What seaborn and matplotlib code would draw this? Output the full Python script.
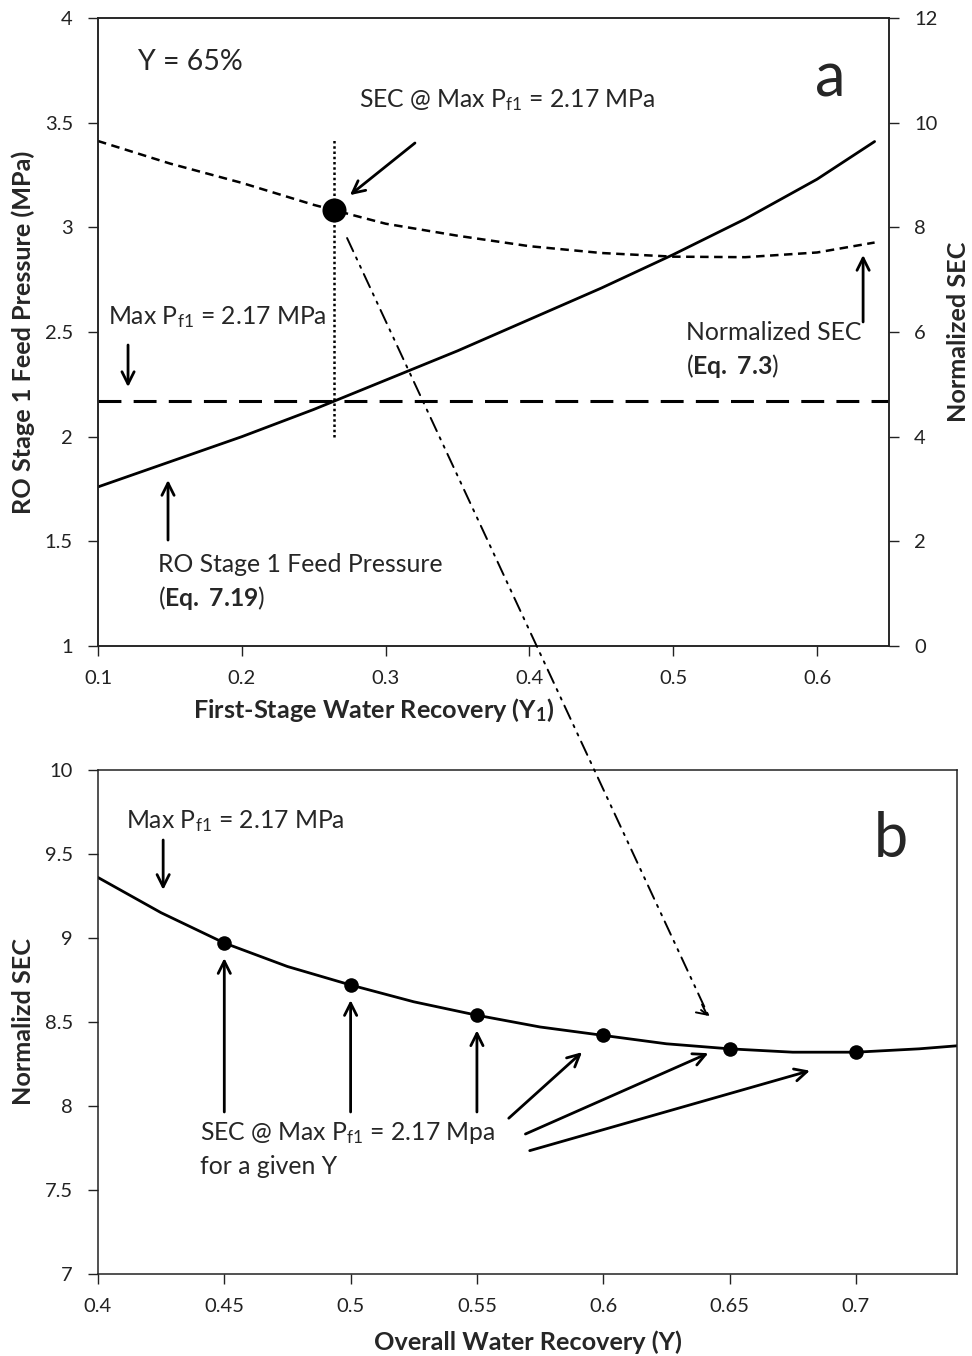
import numpy as np
import pandas as pd
import matplotlib
matplotlib.use("Agg")
import matplotlib.pyplot as plt
import seaborn as sns
from matplotlib.patches import ConnectionPatch
from matplotlib.ticker import FuncFormatter, MultipleLocator

# ---- Panel a: first-stage recovery sweep at overall recovery Y = 65% ----
y1_recovery = [0.10, 0.15, 0.20, 0.25, 0.30, 0.35, 0.40, 0.45, 0.50, 0.55, 0.60, 0.64]
feed_pressure = [1.76, 1.88, 2.00, 2.13, 2.27, 2.41, 2.56, 2.71, 2.87, 3.04, 3.23, 3.41]
sec_first_stage = [9.65, 9.22, 8.85, 8.43, 8.07, 7.84, 7.64, 7.51, 7.44, 7.43, 7.52, 7.71]
max_pf1 = 2.17

# ---- Panel b: SEC at the pressure limit versus overall recovery ----
overall_recovery = [0.400, 0.425, 0.450, 0.475, 0.500, 0.525, 0.550, 0.575,
                    0.600, 0.625, 0.650, 0.675, 0.700, 0.725, 0.750]
sec_overall = [9.36, 9.15, 8.97, 8.83, 8.72, 8.62, 8.54, 8.47,
               8.42, 8.37, 8.34, 8.32, 8.32, 8.34, 8.37]
marked_recovery = [0.45, 0.50, 0.55, 0.60, 0.65, 0.70]

sns.set_theme(style="ticks")
plt.rcParams["font.family"] = ["Lato", "DejaVu Sans"]
plt.rcParams["mathtext.fontset"] = "custom"
plt.rcParams["mathtext.rm"] = "Lato"
plt.rcParams["mathtext.it"] = "Lato:italic"
plt.rcParams["mathtext.bf"] = "Lato:bold"
plt.rcParams["mathtext.default"] = "regular"
plt.rcParams["axes.edgecolor"] = "#222222"
plt.rcParams["xtick.color"] = "#222222"
plt.rcParams["ytick.color"] = "#222222"

TICK_FS = 14.5
TEXT_FS = 17.8
LABEL_FS = 18.2

fig = plt.figure(figsize=(9.72, 13.56), dpi=100)
ax = fig.add_axes([0.1008, 0.5236, 0.8138, 0.4631])
axr = ax.twinx()
axb = fig.add_axes([0.1008, 0.0605, 0.8837, 0.3717])

df_a = pd.DataFrame({"Y1": y1_recovery, "P": feed_pressure, "SEC": sec_first_stage})
df_b = pd.DataFrame({"Y": overall_recovery, "SEC": sec_overall})

# Intersection of the feed-pressure curve with the pressure limit
y1_at_limit = float(np.interp(max_pf1, feed_pressure, y1_recovery))
sec_at_limit = float(np.interp(y1_at_limit, y1_recovery, sec_first_stage))

# Curves of panel a
sns.lineplot(data=df_a, x="Y1", y="P", ax=ax, color="black", lw=2.0, sort=False)
sns.lineplot(data=df_a, x="Y1", y="SEC", ax=axr, color="black", lw=1.8,
             linestyle=(0, (3.4, 2.2)), sort=False)
ax.axhline(max_pf1, color="black", lw=2.2, linestyle=(0, (7.5, 4)))
ax.plot([y1_at_limit, y1_at_limit], [2.0, 3.42], color="black", lw=1.8,
        linestyle=(0, (1, 1.1)))
sns.scatterplot(x=[y1_at_limit], y=[sec_at_limit], ax=axr, color="black",
                s=300, edgecolor="black", linewidth=0, zorder=5)

ax.set_xlim(0.1, 0.65)
ax.set_ylim(1, 4)
axr.set_ylim(0, 12)
ax.xaxis.set_major_locator(MultipleLocator(0.1))
ax.yaxis.set_major_locator(MultipleLocator(0.5))
axr.yaxis.set_major_locator(MultipleLocator(2))
fmt = FuncFormatter(lambda v, p: f"{v:g}")


def style_axis(a):
    a.xaxis.set_major_formatter(fmt)
    a.yaxis.set_major_formatter(fmt)
    a.tick_params(labelsize=TICK_FS, length=7, width=1)
    a.tick_params(axis="x", pad=10)
    a.tick_params(axis="y", pad=11)
    a.set_xlabel("")
    a.set_ylabel("")
    for s in a.spines.values():
        s.set_linewidth(1.1)


style_axis(ax)
style_axis(axr)

ax.text(0.348, -0.102, r"First-Stage Water Recovery (Y$_{\mathbf{1}}$)",
        transform=ax.transAxes, ha="center", va="center",
        fontsize=LABEL_FS, fontweight="bold")
ax.text(-0.095, 0.5, "RO Stage 1 Feed Pressure (MPa)", transform=ax.transAxes,
        ha="center", va="center", rotation=90, fontsize=LABEL_FS, fontweight="bold")
axr.text(1.088, 0.5, "Normalized SEC", transform=axr.transAxes,
         ha="center", va="center", rotation=90, fontsize=LABEL_FS, fontweight="bold")

arrow_kw = dict(arrowstyle="->", lw=2.0, color="black", mutation_scale=22,
                shrinkA=0, shrinkB=0)

ax.text(0.128, 3.79, "Y = 65%", fontsize=20.5, va="center")
ax.text(0.609, 3.71, "a", fontsize=44, ha="center", va="center")
ax.text(0.2815, 3.61, "SEC @ Max P$_{f1}$ = 2.17 MPa", fontsize=TEXT_FS, va="center")
ax.annotate("", xy=(0.2752, 3.154), xytext=(0.3204, 3.403), arrowprops=arrow_kw)
ax.text(0.107, 2.571, "Max P$_{f1}$ = 2.17 MPa", fontsize=TEXT_FS, va="center")
ax.annotate("", xy=(0.1209, 2.237), xytext=(0.1209, 2.438), arrowprops=arrow_kw)
ax.text(0.1417, 1.391, "RO Stage 1 Feed Pressure", fontsize=TEXT_FS, va="center")
ax.text(0.1417, 1.229, r"($\mathbf{Eq.}$ $\mathbf{7.19}$)", fontsize=TEXT_FS, va="center")
ax.annotate("", xy=(0.1487, 1.793), xytext=(0.1487, 1.506), arrowprops=arrow_kw)
ax.text(0.509, 2.50, "Normalized SEC", fontsize=TEXT_FS, va="center")
ax.text(0.509, 2.337, r"($\mathbf{Eq.}$ $\mathbf{7.3}$)", fontsize=TEXT_FS, va="center")
ax.annotate("", xy=(0.632, 2.868), xytext=(0.632, 2.548), arrowprops=arrow_kw)

# Panel b
sns.lineplot(data=df_b, x="Y", y="SEC", ax=axb, color="black", lw=2.0, sort=False)
marked_sec = [float(np.interp(m, overall_recovery, sec_overall)) for m in marked_recovery]
sns.scatterplot(x=marked_recovery, y=marked_sec, ax=axb, color="black", s=110,
                linewidth=0, zorder=5)
axb.set_xlim(0.4, 0.74)
axb.set_ylim(7, 10)
axb.xaxis.set_major_locator(MultipleLocator(0.05))
axb.yaxis.set_major_locator(MultipleLocator(0.5))
style_axis(axb)
axb.text(0.5, -0.135, "Overall Water Recovery (Y)", transform=axb.transAxes,
         ha="center", va="center", fontsize=LABEL_FS, fontweight="bold")
axb.text(-0.087, 0.5, "Normalizd SEC", transform=axb.transAxes, ha="center",
         va="center", rotation=90, fontsize=LABEL_FS, fontweight="bold")

axb.text(0.4111, 9.696, "Max P$_{f1}$ = 2.17 MPa", fontsize=TEXT_FS, va="center")
axb.annotate("", xy=(0.4258, 9.286), xytext=(0.4258, 9.583), arrowprops=arrow_kw)
axb.text(0.7138, 9.583, "b", fontsize=44, ha="center", va="center")
axb.text(0.4404, 7.839, "SEC @ Max P$_{f1}$ = 2.17 Mpa", fontsize=TEXT_FS, va="center")
axb.text(0.4404, 7.637, "for a given Y", fontsize=TEXT_FS, va="center")
for m, v in zip(marked_recovery[:3], marked_sec[:3]):
    axb.annotate("", xy=(m, v - 0.09), xytext=(m, 7.964), arrowprops=arrow_kw)
for start, end in [((0.5626, 7.927), (0.5916, 8.320)),
                   ((0.5692, 7.833), (0.6416, 8.314)),
                   ((0.5709, 7.734), (0.6818, 8.210))]:
    axb.annotate("", xy=end, xytext=start, arrowprops=arrow_kw)

# Link from the optimum in panel a to the Y = 65% point in panel b
link_start = (0.2732, 2.949)
link_end = (0.6417, 8.536)
con = ConnectionPatch(xyA=link_start, coordsA=ax.transData,
                      xyB=link_end, coordsB=axb.transData,
                      arrowstyle="-", lw=1.4, color="black",
                      linestyle=(0, (7.5, 3.5, 1.2, 3.5, 1.2, 3.5)))
fig.add_artist(con)
axb.annotate("", xy=link_end, xytext=(link_end[0] - 0.003, link_end[1] + 0.035),
             arrowprops=dict(arrowstyle="->", lw=1.4, color="black",
                             mutation_scale=18, shrinkA=0, shrinkB=0))

fig.savefig("out.png", dpi=100)
